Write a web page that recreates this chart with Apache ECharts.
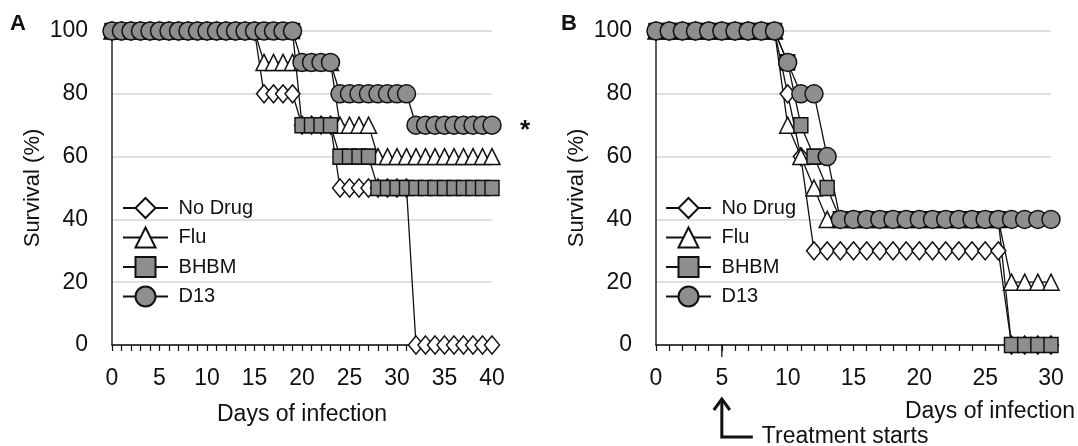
<!DOCTYPE html>
<html lang="en">
<head>
<meta charset="UTF-8">
<title>Survival after infection</title>
<script src="https://cdn.jsdelivr.net/npm/echarts@6/dist/echarts.min.js"></script>
<style>html,body{margin:0;padding:0;background:#fff;}</style>
</head>
<body>
<div id="main" style="width:1078px;height:446px;"></div>
<script>
// panel A: survival (%) for days 0..40
var noDrugA = [100,100,100,100,100,100,100,100,100,100,100,100,100,100,100,100, 80,80,80,80, 70,70,70,70, 50,50,50,50,50,50,50,50, 0,0,0,0,0,0,0,0,0];
var fluA    = [100,100,100,100,100,100,100,100,100,100,100,100,100,100,100,100, 90,90,90,90,90,90,90,90, 70,70,70,70, 60,60,60,60,60,60,60,60,60,60,60,60,60];
var bhbmA   = [100,100,100,100,100,100,100,100,100,100,100,100,100,100,100,100,100,100,100,100, 70,70,70,70, 60,60,60,60, 50,50,50,50,50,50,50,50,50,50,50,50,50];
var d13A    = [100,100,100,100,100,100,100,100,100,100,100,100,100,100,100,100,100,100,100,100, 90,90,90,90, 80,80,80,80,80,80,80,80, 70,70,70,70,70,70,70,70,70];

// panel B: survival (%) for days 0..30
var noDrugB = [100,100,100,100,100,100,100,100,100,100, 80, 60, 30,30,30,30,30,30,30,30,30,30,30,30,30,30,30, 0,0,0,0];
var fluB    = [100,100,100,100,100,100,100,100,100,100, 70, 60, 50, 40,40,40,40,40,40,40,40,40,40,40,40,40,40, 20,20,20,20];
var bhbmB   = [100,100,100,100,100,100,100,100,100,100, 90, 70, 60, 50, 40,40,40,40,40,40,40,40,40,40,40,40,40, 0,0,0,0];
var d13B    = [100,100,100,100,100,100,100,100,100,100, 90, 80, 80, 60, 40,40,40,40,40,40,40,40,40,40,40,40,40,40,40,40,40];

var groups = ['No Drug', 'Flu', 'BHBM', 'D13'];
var yTicks = [0, 20, 40, 60, 80, 100];
var treatDay = 5;

var FONT = '"Liberation Sans", Arial, sans-serif';
var INK = '#111';
var GREY = '#8e8e8e';

var looks = {
    'No Drug': { symbol: 'diamond', size: [15, 18], fill: '#fff' },
    'Flu':     { symbol: 'triangle', size: [16, 16], fill: '#fff' },
    'BHBM':    { symbol: 'rect', size: [14, 15], fill: GREY },
    'D13':     { symbol: 'circle', size: 18, fill: GREY }
};

function mkSeries(name, vals, idx) {
    var lk = looks[name];
    return {
        name: name,
        type: 'line',
        xAxisIndex: idx,
        yAxisIndex: idx,
        data: vals.map(function (v, day) { return [day, v]; }),
        symbol: lk.symbol,
        symbolSize: lk.size,
        showAllSymbol: true,
        clip: false,
        animation: false,
        lineStyle: { color: INK, width: 1.3 },
        itemStyle: { color: lk.fill, borderColor: INK, borderWidth: 1.5 },
        emphasis: { disabled: true }
    };
}

function xAxisFor(grid, max) {
    return {
        type: 'value', gridIndex: grid, min: 0, max: max, interval: 5, position: 'bottom',
        axisLine: { show: true, onZero: false, lineStyle: { color: INK, width: 1.5 } },
        axisTick: { show: true, length: 6, lineStyle: { color: INK, width: 1.2 } },
        minorTick: { show: true, splitNumber: 5, length: 6, lineStyle: { color: INK, width: 1.2 } },
        axisLabel: { fontSize: 23, color: INK, fontFamily: FONT, margin: 22 },
        splitLine: { show: false }
    };
}

function yAxisFor(grid) {
    return {
        type: 'value', gridIndex: grid, min: yTicks[0], max: yTicks[yTicks.length - 1], interval: 20,
        name: 'Survival (%)', nameLocation: 'middle', nameGap: 68,
        nameTextStyle: { fontSize: 22, color: INK, fontFamily: FONT },
        axisLine: { show: true, lineStyle: { color: '#333', width: 1.6 } },
        axisTick: { show: false },
        axisLabel: { fontSize: 23, color: INK, fontFamily: FONT, margin: 24 },
        splitLine: { show: true, lineStyle: { color: '#d4d4d4', width: 1.5 } }
    };
}

function legendAt(left) {
    return {
        orient: 'vertical', left: left, top: 197, padding: 0,
        itemWidth: 45, itemHeight: 25, itemGap: 7.5,
        selectedMode: false,
        data: groups,
        formatter: function (n) { return ' ' + n; },
        textStyle: { fontSize: 20, color: INK, fontFamily: FONT }
    };
}

var xA = xAxisFor(0, 40);
xA.name = 'Days of infection';
xA.nameLocation = 'middle';
xA.nameGap = 58;
xA.nameTextStyle = { fontSize: 23, color: INK, fontFamily: FONT };

var xB = xAxisFor(1, 30);
xB.name = 'Days of infection';
xB.nameLocation = 'end';
xB.nameGap = 24;
xB.nameTextStyle = { fontSize: 23, color: INK, fontFamily: FONT, align: 'right', verticalAlign: 'top', padding: [55, 0, 0, 0] };

var chart = echarts.init(document.getElementById('main'), null, { renderer: 'canvas' });

var option = {
    backgroundColor: '#fff',
    animation: false,
    textStyle: { fontFamily: FONT },
    grid: [
        { left: 112, top: 31, width: 380, height: 314 },
        { left: 656, top: 31, width: 395, height: 314 }
    ],
    xAxis: [xA, xB],
    yAxis: [yAxisFor(0), yAxisFor(1)],
    legend: [legendAt(122), legendAt(665)],
    series: [
        mkSeries('No Drug', noDrugA, 0),
        mkSeries('Flu', fluA, 0),
        mkSeries('BHBM', bhbmA, 0),
        mkSeries('D13', d13A, 0),
        mkSeries('No Drug', noDrugB, 1),
        mkSeries('Flu', fluB, 1),
        mkSeries('BHBM', bhbmB, 1),
        mkSeries('D13', d13B, 1)
    ]
};
chart.setOption(option);

// annotations placed from the axes
var x5 = chart.convertToPixel({ xAxisIndex: 1 }, treatDay);
var yBase = chart.convertToPixel({ yAxisIndex: 1 }, 0);
var starX = chart.convertToPixel({ xAxisIndex: 0 }, 40) + 33;
var starY = chart.convertToPixel({ yAxisIndex: 0 }, d13A[d13A.length - 1]);

chart.setOption({
    graphic: [
        { type: 'text', left: 10, top: 13, style: { text: 'A', font: 'bold 22px ' + FONT, fill: INK } },
        { type: 'text', left: 561, top: 13, style: { text: 'B', font: 'bold 22px ' + FONT, fill: INK } },
        { type: 'text', x: starX, y: starY + 6, style: { text: '*', font: 'bold 26px ' + FONT, fill: INK, align: 'center', verticalAlign: 'middle' } },
        // longer tick at treatment start
        { type: 'line', shape: { x1: x5, y1: yBase, x2: x5, y2: yBase + 12 }, style: { stroke: INK, lineWidth: 1.3 } },
        { type: 'polyline', shape: { points: [[x5, yBase + 54], [x5, yBase + 92], [x5 + 31, yBase + 92]] },
          style: { stroke: INK, lineWidth: 3, fill: null } },
        { type: 'polyline', shape: { points: [[x5 - 8, yBase + 65], [x5, yBase + 54], [x5 + 8, yBase + 65]] },
          style: { stroke: INK, lineWidth: 3, fill: null } },
        { type: 'text', x: x5 + 40, y: yBase + 92, style: { text: 'Treatment starts', font: '23px ' + FONT, fill: INK, verticalAlign: 'middle' } }
    ]
});
</script>
</body>
</html>
